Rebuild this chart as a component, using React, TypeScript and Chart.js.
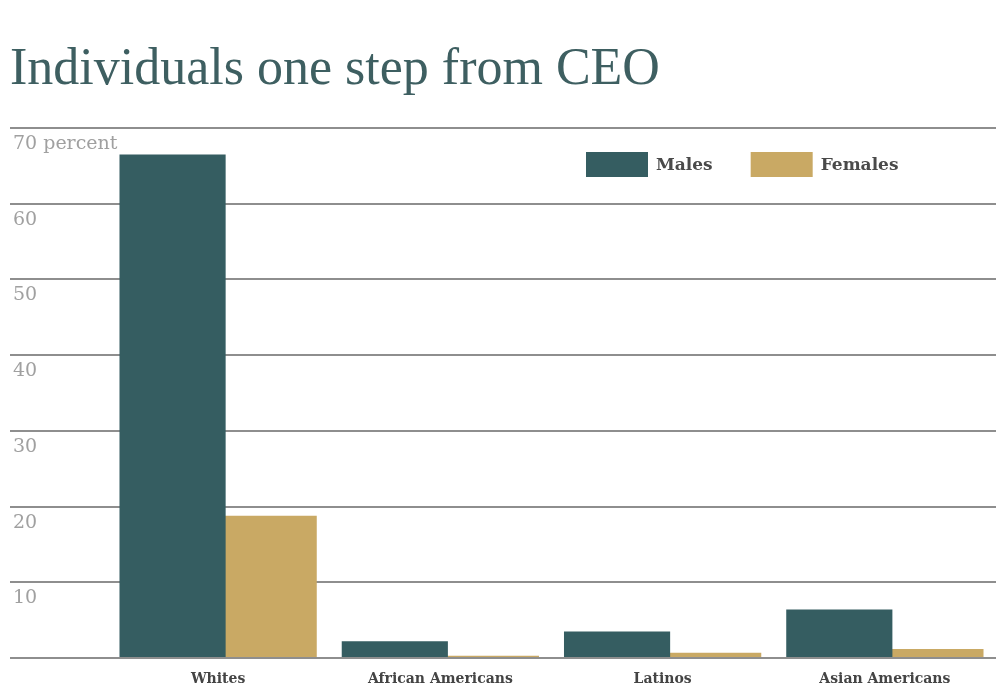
import React, { useEffect, useRef } from 'react';
import { Chart, registerables } from 'chart.js';

Chart.register(...registerables);

// Share of individuals one step from CEO, by group and sex (percent)
const groups = ['Whites', 'African Americans', 'Latinos', 'Asian Americans'];
const males = [66.5, 2.2, 3.5, 6.4];
const females = [18.8, 0.3, 0.7, 1.2];
const seriesNames = ['Males', 'Females'];
const yTickLabels = ['', '10', '20', '30', '40', '50', '60', '70 percent'];

const MALE_COLOR = '#355d61';
const FEMALE_COLOR = '#c9a964';
const GRID_COLOR = '#8e8e8e';

// Legend drawn inside the plot, to the upper right
const insideLegend = {
  id: 'insideLegend',
  afterDraw(chart: any) {
    const { ctx, chartArea } = chart;
    ctx.save();
    ctx.font = 'bold 17px "DejaVu Serif"';
    ctx.textBaseline = 'middle';
    ctx.textAlign = 'left';
    let x = chartArea.left + 479;
    const y = chartArea.top + 24;
    chart.data.datasets.forEach((ds: any) => {
      ctx.fillStyle = ds.backgroundColor;
      ctx.fillRect(x, y, 62, 25);
      ctx.fillStyle = '#4a4a4a';
      ctx.fillText(ds.label, x + 70, y + 14);
      x += 70 + ctx.measureText(ds.label).width + 38;
    });
    ctx.restore();
  },
};

export default function App() {
  const canvasRef = useRef<HTMLCanvasElement | null>(null);

  useEffect(() => {
    document.body.style.margin = '0';
    const canvas = canvasRef.current;
    if (!canvas) return;

    const chart = new Chart(canvas, {
      type: 'bar',
      data: {
        labels: groups,
        datasets: [
          { label: seriesNames[0], data: males, backgroundColor: MALE_COLOR },
          { label: seriesNames[1], data: females, backgroundColor: FEMALE_COLOR },
        ],
      },
      options: {
        responsive: false,
        animation: false,
        datasets: {
          bar: { categoryPercentage: 0.82, barPercentage: 1.165 },
        },
        layout: { padding: { top: 39, left: 10, right: 2, bottom: 0 } },
        plugins: {
          legend: { display: false },
          tooltip: { enabled: false },
          title: {
            display: true,
            text: 'Individuals one step from CEO',
            align: 'start',
            color: '#3e5f61',
            font: { family: '"Liberation Serif"', size: 52, weight: 'normal' },
            padding: { top: 0, bottom: 26.6 },
          },
        },
        scales: {
          x: {
            afterFit(scale: any) {
              scale.height = 31;
            },
            grid: { display: false, drawTicks: false },
            border: { display: false },
            ticks: {
              color: '#444444',
              font: { family: '"DejaVu Serif"', size: 14, weight: 'bold' },
              padding: 13,
              maxRotation: 0,
              autoSkip: false,
            },
          },
          y: {
            min: 0,
            max: 70,
            afterFit(scale: any) {
              scale.width = 97;
            },
            grid: {
              color: GRID_COLOR,
              lineWidth: 2,
              drawTicks: true,
              tickLength: 97,
              tickColor: GRID_COLOR,
            },
            border: { display: false },
            ticks: {
              stepSize: 10,
              mirror: true,
              crossAlign: 'near',
              labelOffset: 16,
              padding: -94,
              color: '#a0a0a0',
              font: { family: '"DejaVu Serif"', size: 19 },
              callback: (_v: any, i: number) => yTickLabels[i] ?? '',
            },
          },
        },
      },
      plugins: [insideLegend],
    });

    return () => chart.destroy();
  }, []);

  return (
    <div style={{ width: 998, height: 689, background: '#ffffff' }}>
      <canvas ref={canvasRef} width={998} height={689} />
    </div>
  );
}
